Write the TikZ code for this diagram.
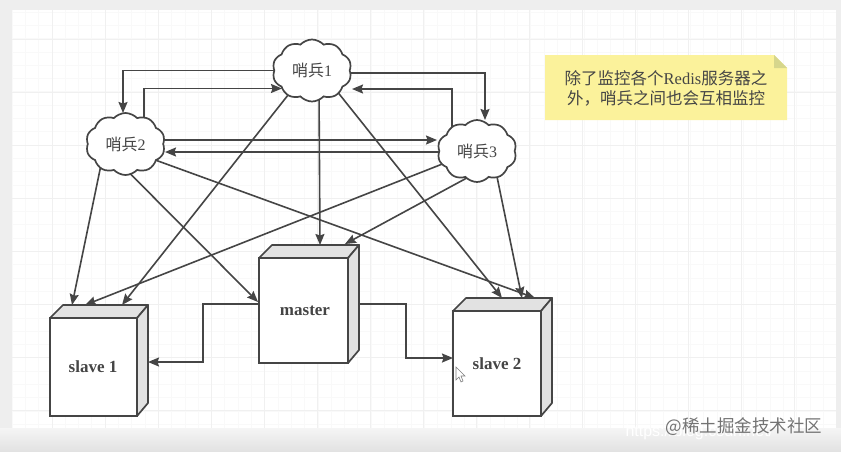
\documentclass[tikz,border=0pt]{standalone}
\usepackage{fontspec}
\setmainfont{Liberation Serif}
\newfontfamily\cjk{Noto Sans CJK SC}
\newfontfamily\sanslat{Liberation Sans}
\usetikzlibrary{arrows.meta,calc,shapes.symbols}
\pgfdeclarelayer{gridlayer}
\pgfdeclarelayer{linklayer}
\pgfsetlayers{gridlayer,linklayer,main}
\definecolor{ink}{HTML}{454545}
\definecolor{gridminor}{HTML}{F9F9F9}
\definecolor{gridmajor}{HTML}{F0F0F0}
\definecolor{backdrop}{HTML}{EEEEEE}
\definecolor{notefill}{HTML}{FBF29B}
\definecolor{notefold}{HTML}{D6D68C}
\definecolor{sidefill}{HTML}{E2E2E2}
\tikzset{
  conn/.style={draw=ink,line width=1.6pt,-{Stealth[length=11pt,width=9pt,inset=1.5pt]}},
  sentinel/.style={cloud,cloud puffs=10,cloud puff arc=95,aspect=1.25,draw=ink,line width=1.7pt,fill=white,
    minimum width=79pt,minimum height=62pt,inner sep=0pt,outer sep=0pt,text=ink,font=\fontsize{16}{18}\selectfont},
  server/.style={rectangle,draw=ink,line width=1.7pt,fill=white,inner sep=0pt,outer sep=0pt},
  sidepart/.style={draw=ink,line width=1.7pt,fill=sidefill,line join=round},
  boxlabel/.style={text=ink,font=\fontsize{17}{20}\selectfont\bfseries},
}
\newcommand{\serverbox}[5]{%
  \node[server,minimum width=#4pt,minimum height=#5pt] (#1) at (#2,#3) {};
  \path[sidepart] (#1.north west) -- ++(13,-13) -- ($(#1.north east)+(11,-13)$) -- (#1.north east) -- cycle;
  \path[sidepart] (#1.north east) -- ++(11,-13) -- ($(#1.south east)+(11,-13)$) -- (#1.south east) -- cycle;
}
\begin{document}
\begin{tikzpicture}[x=1pt,y=-1pt]
\useasboundingbox (0,0) rectangle (841,451);
\begin{pgfonlayer}{gridlayer}
\fill[backdrop] (0,0) rectangle (841,451);
\fill[white] (12,10) rectangle (836,428);
\foreach \k in {0,...,61} \draw[gridminor,line width=.8pt] ({12+\k*13.3},10) -- ({12+\k*13.3},428);
\foreach \k in {0,...,31} \draw[gridminor,line width=.8pt] (12,{12+\k*13.3}) -- (836,{12+\k*13.3});
\foreach \k in {0,...,14} \draw[gridmajor,line width=1pt] ({52+\k*53},10) -- ({52+\k*53},428);
\foreach \k in {0,...,7} \draw[gridmajor,line width=1pt] (12,{39+\k*53.1}) -- (836,{39+\k*53.1});
\shade[top color=backdrop!60!white,bottom color=backdrop!95!black] (0,428) rectangle (841,451);
\end{pgfonlayer}

% servers
\serverbox{slave1}{93.5}{367}{87}{98}
\serverbox{master}{303.5}{310.5}{89}{105}
\serverbox{slave2}{497}{363.5}{88}{105}
\node[boxlabel] (l1) at (93,367) {slave 1};
\node[boxlabel] (l2) at (305,311) {master};
\node[boxlabel] (l3) at (497,364) {slave 2};

% clouds
\node[sentinel] (s1) at (312,70.5) {{\cjk 哨兵}1};
\node[sentinel] (s2) at (125.5,144) {{\cjk 哨兵}2};
\node[sentinel] (s3) at (477,151) {{\cjk 哨兵}3};

\begin{pgfonlayer}{linklayer}
% orthogonal links among sentinels
\draw[conn] ($(s1)+(-30,0)$) -| ($(s2)+(-2.5,-31)$);
\draw[conn] ($(s2)+(18.5,-18)$) |- ($(s1)+(-30,18)$);
\draw[conn] ($(s1)+(30,2.5)$) -| ($(s3)+(8,-31)$);
\draw[conn] ($(s3)+(-25,-18)$) |- ($(s1)+(40,18.5)$);
\draw[conn] ($(s2)+(32,-4)$) -- ($(s3)+(-40,-11)$);
\draw[conn] ($(s3)+(-30,1)$) -- ($(s2)+(39.5,8)$);

% sentinels to servers
\draw[conn] ($(s1)+(-18,17)$) -- ($(slave1.north west)+(72,-13)$);
\draw[conn] ($(s1)+(7,20)$) -- ($(master.north west)+(61,-13)$);
\draw[conn] ($(s1)+(22,17)$) -- ($(slave2.north west)+(49,-13)$);
\draw[conn] ($(s2)+(-23.5,16)$) -- ($(slave1.north west)+(22,-13)$);
\draw[conn] ($(s2)+(-4,21)$) -- ($(master.north west)+(-1,44)$);
\draw[conn] ($(s2)+(27,15)$) -- ($(slave2.north west)+(82,-13)$);
\draw[conn] ($(s3)+(-22,8)$) -- ($(slave1.north west)+(35,-13)$);
\draw[conn] ($(s3)+(-1,22)$) -- ($(master.north west)+(86,-14)$);
\draw[conn] ($(s3)+(18,16)$) -- ($(slave2.north west)+(69,-13)$);

% master to slaves
\draw[conn] ($(master.west)+(0,-6.5)$) -| (203,335) |- ($(slave1.east)+(11,-5)$);
\draw[conn] ($(master.east)+(0,-6.5)$) -| (406,335) |- ($(slave2.west)+(0,-5.5)$);
\end{pgfonlayer}

% note
\fill[notefill] (545,55) -- (774,55) -- (787,68) -- (787,120) -- (545,120) -- cycle;
\fill[notefold] (774,55) -- (787,68) -- (774,68) -- cycle;
\node[text=ink,align=center,font=\fontsize{16.5}{20}\selectfont] (note) at (666,88)
  {{\cjk 除了监控各个}Redis{\cjk 服务器之}\\{\cjk 外，哨兵之间也会互相监控}};

% pointer
\path[draw=ink!70,fill=white,line width=.6pt] (456,367) -- (456,380) -- (459,377) -- (461,382) -- (463,381) -- (461,376) -- (465,376) -- cycle;

% watermark
\node[anchor=west,text=white,font=\sanslat\fontsize{16}{18}\selectfont] (url) at (622,432) {https://blog.csdn.net/};
\node[anchor=east,text=black!55,font=\cjk\fontsize{17.5}{20}\selectfont] (mark) at (826,427) {@稀土掘金技术社区};
\end{tikzpicture}
\end{document}
